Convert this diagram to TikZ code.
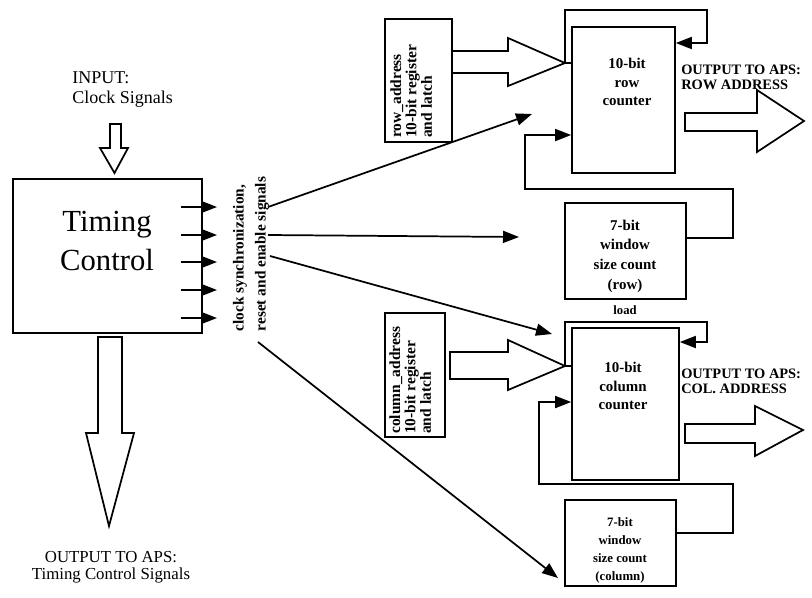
\documentclass[tikz,border=0pt]{standalone}
\usepackage{fontspec}
\setmainfont{Liberation Serif}
\usetikzlibrary{arrows.meta}
\begin{document}
\begin{tikzpicture}[x=0.75pt,y=-0.75pt,line join=miter,
  box/.style={draw,line width=1.2pt,inner sep=0pt},
  ln/.style={line width=1.3pt},
  arr/.style={ln,-{Triangle[length=12pt,width=9pt]}},
  blk/.style={draw,line width=1.3pt,fill=white},
  lbl/.style={inner sep=0pt,font=\fontsize{13.5}{15}\selectfont},
  boxtxt/.style={inner sep=0pt,align=center,font=\bfseries\fontsize{11.2}{14}\selectfont},
  rottxt/.style={inner sep=0pt,rotate=90,align=left,anchor=north west,font=\bfseries\fontsize{11.6}{11.6}\selectfont},
  outtxt/.style={inner sep=0pt,align=left,anchor=west,font=\bfseries\fontsize{10.8}{11.3}\selectfont}]
\useasboundingbox (0,0) rectangle (812,597);

% Timing control
\node[box,minimum width=141.75pt,minimum height=115.5pt] (tc) at (107.5,256) {};
\node[inner sep=0pt,align=center,font=\fontsize{23}{29}\selectfont] (tctxt) at (107,241) {Timing\\Control};
\foreach \y in {207,235,262,290,318} \draw[arr] (181,\y) -- (217,\y);

% input
\node[lbl,align=left,anchor=west] (inp) at (72,90) {INPUT:\\Clock Signals};
\draw[blk] (110,124) -- (121,124) -- (121,148) -- (128,148) -- (114.5,173) -- (100,148) -- (110,148) -- cycle;

% output bottom
\draw[blk] (98,337) -- (122,337) -- (122,433) -- (134,433) -- (109,526) -- (86,433) -- (98,433) -- cycle;
\node[inner sep=0pt,align=center,font=\fontsize{12.6}{12.6}\selectfont] (outb) at (111,567) {OUTPUT TO APS:\\Timing Control Signals};

% vertical text
\node[inner sep=0pt,rotate=90,align=left,font=\bfseries\fontsize{11.5}{16.5}\selectfont] (sig) at (251,254) {clock synchronization,\\reset and enable signals};

% fan coordinates
\coordinate (f1s) at (268,207); \coordinate (f1e) at (532,114);
\coordinate (f2s) at (268,235); \coordinate (f2e) at (519,237);
\coordinate (f3s) at (270,256); \coordinate (f3e) at (552,334);
\coordinate (f4s) at (258,342); \coordinate (f4e) at (558,578);
\draw[arr] (f1s) -- (f1e);
\draw[arr] (f2s) -- (f2e);
\draw[arr] (f3s) -- (f3e);
\draw[arr] (f4s) -- (f4e);

% row address register
\node[box,minimum width=50.25pt,minimum height=92.25pt] (ra) at (418.5,80.5) {};
\node[rottxt] (ratxt) at (390,138) {row\_address\\10-bit register\\and latch};
\draw[blk] (452,51) -- (508,51) -- (508,38) -- (565,63) -- (508,86) -- (508,73) -- (452,73) -- cycle;

% row counter
\node[box,minimum width=77.25pt,minimum height=109.5pt] (rc) at (623.5,100) {};
\node[boxtxt] (rctxt) at (627,82) {10-bit\\row\\counter};
\coordinate (rtip) at (565,63);
\coordinate (ry43) at (0,43);
\coordinate (ry63) at (0,63);
\coordinate (ry135) at (0,135);
\draw[ln] (rtip) -- (rc.west |- ry63);
\draw[arr] (rtip) -- (565,10) -- (707,10) -- (707,43) -- (rc.east |- ry43);

% row window
\node[box,minimum width=90.75pt,minimum height=72pt] (rw) at (625.5,251) {};
\node[boxtxt,font=\bfseries\fontsize{11.2}{14.8}\selectfont] (rwtxt) at (625,256) {7-bit\\window\\size count\\(row)};
\coordinate (ry238) at (0,238);
\draw[arr] (rw.east |- ry238) -- (733,238) -- (733,189) -- (525,189) -- (525,135) -- (rc.west |- ry135);
\node[inner sep=0pt,font=\bfseries\fontsize{9.5}{10}\selectfont] (load) at (625,310) {load};

% column address register
\node[box,minimum width=45pt,minimum height=93pt] (ca) at (415,375) {};
\node[rottxt] (catxt) at (389,434) {column\_address\\10-bit register\\and latch};
\draw[blk] (450,352) -- (508,352) -- (508,340) -- (565,366) -- (508,390) -- (508,379) -- (450,379) -- cycle;

% column counter
\node[box,minimum width=80.25pt,minimum height=114pt] (cc) at (625.5,404) {};
\node[boxtxt] (cctxt) at (623,386) {10-bit\\column\\counter};
\coordinate (ctip) at (565,366);
\coordinate (cy342) at (0,342);
\coordinate (cy366) at (0,366);
\coordinate (cy402) at (0,402);
\draw[ln] (ctip) -- (cc.west |- cy366);
\draw[arr] (ctip) -- (565,322) -- (707,322) -- (707,342) -- (cc.east |- cy342);

% column window
\node[box,minimum width=83.25pt,minimum height=64.5pt] (cw) at (620.5,543) {};
\node[boxtxt,font=\bfseries\fontsize{9.6}{13.5}\selectfont] (cwtxt) at (620,550) {7-bit\\window\\size count\\(column)};
\coordinate (cy533) at (0,533);
\draw[arr] (cw.east |- cy533) -- (733,533) -- (733,484) -- (539,484) -- (539,402) -- (cc.west |- cy402);

% outputs
\draw[blk] (685,113) -- (757,113) -- (757,90) -- (804,121) -- (757,152) -- (757,131) -- (685,131) -- cycle;
\node[outtxt] (orow) at (681,77) {OUTPUT TO APS:\\ROW ADDRESS};
\draw[blk] (685,424) -- (755,424) -- (755,406) -- (803,430) -- (755,456) -- (755,443) -- (685,443) -- cycle;
\node[outtxt] (ocol) at (681,381) {OUTPUT TO APS:\\COL. ADDRESS};
\end{tikzpicture}
\end{document}
